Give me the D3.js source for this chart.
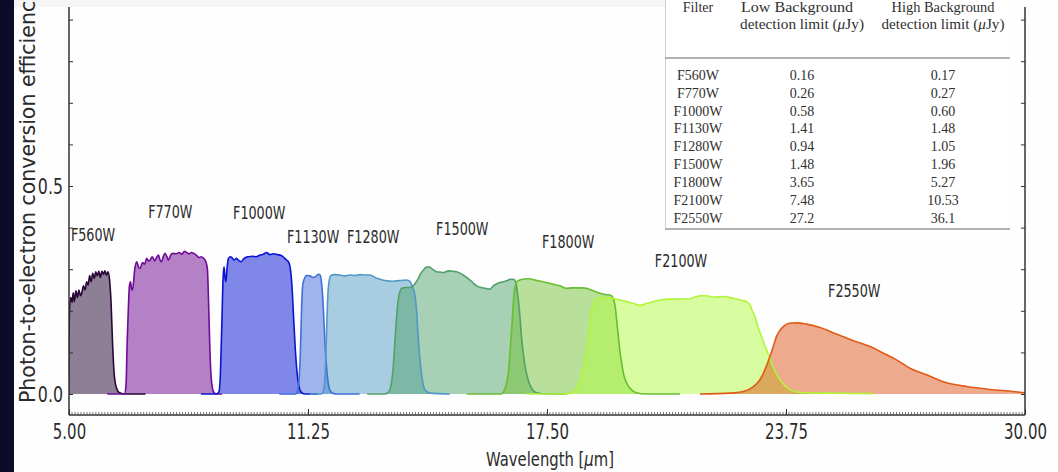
<!DOCTYPE html>
<html>
<head>
<meta charset="utf-8">
<script src="https://cdn.jsdelivr.net/npm/d3@7"></script>
<style>
  html, body { margin: 0; padding: 0; background: #ffffff; overflow: hidden; }
  svg { display: block; }
</style>
</head>
<body>
<svg id="chart" width="1058" height="472"></svg>
<script>
// MIRI imager filter throughput curves: [wavelength (um), photon-to-electron conversion efficiency]
const filters = ["F560W", "F770W", "F1000W", "F1130W", "F1280W", "F1500W", "F1800W", "F2100W", "F2550W"];

const F560W = [[4.9,0],[4.99,0],[5.0,0.12],[5.02,0.215],[5.05,0.232],[5.08,0.22],[5.11,0.243],[5.14,0.222],[5.18,0.248],[5.22,0.232],[5.26,0.25],[5.30,0.236],[5.34,0.245],[5.38,0.26],[5.42,0.25],[5.46,0.27],[5.50,0.262],[5.54,0.285],[5.58,0.27],[5.62,0.29],[5.66,0.278],[5.70,0.294],[5.74,0.284],[5.78,0.295],[5.82,0.28],[5.86,0.295],[5.90,0.288],[5.94,0.296],[5.98,0.285],[6.02,0.294],[6.06,0.275],[6.10,0.22],[6.14,0.12],[6.18,0.05],[6.24,0.015],[6.32,0.003],[6.45,0],[7.0,0]];
const F770W = [[6.0,0],[6.45,0],[6.49,0.02],[6.52,0.12],[6.55,0.2],[6.58,0.26],[6.61,0.27],[6.64,0.25],[6.67,0.255],[6.72,0.3],[6.77,0.318],[6.82,0.305],[6.86,0.302],[6.92,0.316],[6.98,0.312],[7.03,0.326],[7.08,0.32],[7.12,0.322],[7.18,0.33],[7.24,0.32],[7.29,0.328],[7.34,0.334],[7.38,0.322],[7.42,0.318],[7.47,0.332],[7.51,0.338],[7.56,0.33],[7.60,0.322],[7.66,0.334],[7.72,0.338],[7.80,0.337],[7.88,0.34],[7.95,0.336],[8.02,0.343],[8.08,0.34],[8.14,0.337],[8.2,0.34],[8.26,0.338],[8.33,0.334],[8.40,0.328],[8.46,0.33],[8.52,0.326],[8.58,0.318],[8.62,0.3],[8.65,0.22],[8.68,0.12],[8.71,0.05],[8.74,0.02],[8.78,0.005],[8.85,0],[9.0,0]];
const F1000W = [[8.45,0],[8.85,0],[8.92,0.005],[8.96,0.05],[9.0,0.18],[9.03,0.28],[9.055,0.306],[9.08,0.28],[9.105,0.27],[9.13,0.3],[9.17,0.326],[9.22,0.33],[9.26,0.328],[9.32,0.322],[9.38,0.326],[9.45,0.32],[9.5,0.318],[9.56,0.324],[9.62,0.328],[9.7,0.33],[9.8,0.331],[9.9,0.33],[10.0,0.334],[10.08,0.336],[10.17,0.34],[10.25,0.335],[10.34,0.337],[10.45,0.335],[10.55,0.333],[10.62,0.328],[10.69,0.322],[10.75,0.316],[10.79,0.3],[10.83,0.26],[10.87,0.19],[10.91,0.12],[10.96,0.055],[11.01,0.02],[11.06,0.006],[11.15,0],[11.5,0]];
const F1130W = [[10.5,0],[10.93,0],[10.98,0.01],[11.02,0.04],[11.05,0.1],[11.08,0.2],[11.11,0.26],[11.15,0.276],[11.22,0.285],[11.3,0.284],[11.38,0.28],[11.45,0.282],[11.52,0.288],[11.57,0.286],[11.6,0.27],[11.63,0.24],[11.67,0.17],[11.7,0.11],[11.74,0.06],[11.78,0.025],[11.83,0.008],[11.9,0.002],[12.0,0],[12.6,0]];
const F1280W = [[11.3,0],[11.6,0],[11.66,0.01],[11.7,0.05],[11.73,0.13],[11.76,0.22],[11.8,0.27],[11.85,0.285],[11.95,0.287],[12.09,0.286],[12.2,0.284],[12.35,0.286],[12.5,0.285],[12.61,0.287],[12.75,0.286],[12.87,0.286],[13.05,0.278],[13.2,0.274],[13.31,0.272],[13.45,0.271],[13.57,0.272],[13.7,0.273],[13.83,0.274],[13.92,0.27],[13.98,0.258],[14.04,0.24],[14.09,0.2],[14.13,0.14],[14.18,0.08],[14.23,0.04],[14.31,0.01],[14.44,0.002],[14.96,0]];
const F1500W = [[12.8,0],[13.25,0],[13.35,0.004],[13.42,0.02],[13.48,0.066],[13.54,0.15],[13.59,0.21],[13.65,0.245],[13.70,0.254],[13.8,0.256],[13.92,0.256],[14.0,0.26],[14.07,0.268],[14.135,0.278],[14.2,0.29],[14.27,0.298],[14.33,0.304],[14.4,0.306],[14.48,0.302],[14.55,0.297],[14.615,0.294],[14.7,0.293],[14.79,0.292],[14.92,0.296],[15.03,0.295],[15.14,0.294],[15.23,0.29],[15.31,0.286],[15.4,0.28],[15.49,0.274],[15.58,0.266],[15.66,0.26],[15.77,0.256],[15.88,0.254],[16.01,0.252],[16.1,0.26],[16.19,0.265],[16.27,0.268],[16.36,0.27],[16.445,0.272],[16.52,0.275],[16.58,0.276],[16.64,0.275],[16.69,0.265],[16.73,0.24],[16.78,0.2],[16.84,0.13],[16.89,0.09],[16.94,0.06],[17.02,0.03],[17.09,0.015],[17.23,0.003],[17.49,0],[18.01,0]];
const F1800W = [[15.4,0],[16.3,0],[16.39,0.01],[16.45,0.03],[16.49,0.05],[16.54,0.11],[16.58,0.16],[16.64,0.242],[16.71,0.27],[16.79,0.274],[16.89,0.276],[16.97,0.277],[17.05,0.277],[17.14,0.275],[17.27,0.272],[17.4,0.27],[17.54,0.267],[17.67,0.264],[17.84,0.26],[18.01,0.254],[18.14,0.255],[18.28,0.255],[18.41,0.255],[18.54,0.254],[18.63,0.251],[18.71,0.248],[18.8,0.245],[18.89,0.242],[19.02,0.239],[19.15,0.238],[19.21,0.234],[19.25,0.225],[19.29,0.205],[19.33,0.17],[19.37,0.135],[19.41,0.1],[19.46,0.07],[19.51,0.045],[19.59,0.025],[19.67,0.014],[19.84,0.003],[20.09,0],[20.98,0]];
const F2100W = [[16.97,0],[17.9,0],[18.1,0.002],[18.19,0.006],[18.28,0.016],[18.364,0.034],[18.45,0.065],[18.539,0.106],[18.6,0.15],[18.668,0.202],[18.755,0.226],[18.886,0.232],[19.06,0.232],[19.234,0.23],[19.409,0.226],[19.583,0.222],[19.758,0.218],[19.932,0.213],[20.106,0.218],[20.28,0.222],[20.455,0.226],[20.716,0.228],[20.978,0.228],[21.24,0.229],[21.37,0.233],[21.501,0.236],[21.675,0.236],[21.85,0.233],[22.111,0.234],[22.373,0.23],[22.55,0.226],[22.721,0.222],[22.808,0.214],[22.87,0.2],[22.939,0.186],[23.02,0.16],[23.113,0.138],[23.18,0.12],[23.244,0.106],[23.31,0.09],[23.375,0.074],[23.48,0.052],[23.593,0.034],[23.72,0.02],[23.855,0.01],[24.05,0.005],[24.29,0.003],[24.9,0.002],[26.03,0.001]];
const F2550W = [[21.5,0],[22.29,0.002],[22.63,0.006],[22.9,0.018],[23.05,0.032],[23.16,0.05],[23.25,0.07],[23.33,0.09],[23.42,0.115],[23.5,0.138],[23.59,0.153],[23.68,0.162],[23.77,0.168],[23.85,0.17],[24.03,0.171],[24.29,0.168],[24.64,0.16],[25.07,0.144],[25.51,0.128],[25.95,0.114],[26.3,0.098],[26.64,0.082],[26.99,0.062],[27.43,0.046],[27.95,0.027],[28.47,0.018],[29.08,0.011],[29.69,0.006],[30.0,0.003],[30.2,0.002]];

const curves = [F560W, F770W, F1000W, F1130W, F1280W, F1500W, F1800W, F2100W, F2550W];
const lineColors = ["#2a0638", "#6e0c96", "#0a14d2", "#3f6fdc", "#4f98c8", "#52a06a", "#68bd33", "#b0f53a", "#e05a18"];
const fillColors = ["#19002d", "#69018d", "#0011d1", "#4169d9", "#5199c1", "#51a169", "#71c135", "#b1fb41", "#dd5519"];

// filter name annotations (left edge, baseline) in data units
const labelX = [5.05, 7.07, 9.29, 10.70, 12.27, 14.60, 17.37, 20.32, 24.85];
const labelY = [0.368, 0.423, 0.421, 0.363, 0.363, 0.382, 0.351, 0.305, 0.233];

const xTicks = [5, 11.25, 17.5, 23.75, 30];
const yLabelTicks = [0, 0.5];
const yTicks = [0, 0.1, 0.2, 0.3, 0.4, 0.5, 0.6, 0.7, 0.8, 0.9];

// detection limit table
const tableFilters = ["F560W", "F770W", "F1000W", "F1130W", "F1280W", "F1500W", "F1800W", "F2100W", "F2550W"];
const lowLimits = ["0.16", "0.26", "0.58", "1.41", "0.94", "1.48", "3.65", "7.48", "27.2"];
const highLimits = ["0.17", "0.27", "0.60", "1.48", "1.05", "1.96", "5.27", "10.53", "36.1"];

const svg = d3.select("#chart");
const W = 1058, H = 472;
const plotLeft = 69, plotRight = 1025, plotBottom = 415, plotTop = 7;

const x = d3.scaleLinear().domain([5, 30]).range([plotLeft, plotRight]);
const y = d3.scaleLinear().domain([0, 0.5]).range([394, 186]);

const sans = "'DejaVu Sans', 'Bitstream Vera Sans', sans-serif";
const textColor = "#2b2b2b";

svg.append("rect").attr("width", W).attr("height", H).attr("fill", "#fefefe");
svg.append("rect").attr("x", 14).attr("y", 0).attr("width", 651).attr("height", plotTop).attr("fill", "#f5f5f5");
svg.append("rect").attr("x", 0).attr("y", 0).attr("width", 14).attr("height", H).attr("fill", "#0b0c27");

svg.append("defs").append("clipPath").attr("id", "plotClip")
  .append("rect").attr("x", plotLeft).attr("y", 0).attr("width", plotRight - plotLeft).attr("height", plotBottom);

const plot = svg.append("g").attr("clip-path", "url(#plotClip)");

const area = d3.area()
  .x(d => x(d[0])).y0(y(0)).y1(d => y(d[1]))
  .curve(d3.curveMonotoneX);
const line = d3.line()
  .x(d => x(d[0])).y(d => y(d[1]))
  .curve(d3.curveMonotoneX);

// translucent fills first, outlines on top of all fills
plot.selectAll("path.fill").data(curves).join("path")
  .attr("class", "fill")
  .attr("d", area)
  .attr("fill", (d, i) => fillColors[i])
  .attr("fill-opacity", 0.5);

plot.selectAll("path.outline").data(curves).join("path")
  .attr("class", "outline")
  .attr("d", line)
  .attr("fill", "none")
  .attr("stroke", (d, i) => lineColors[i])
  .attr("stroke-width", 1.6)
  .attr("stroke-linejoin", "round");

// filter names
svg.selectAll("text.flabel").data(filters).join("text")
  .attr("class", "flabel")
  .attr("transform", (d, i) => `translate(${x(labelX[i])},${y(labelY[i])}) scale(0.75,1)`)
  .attr("font-family", sans)
  .attr("font-size", 17)
  .attr("fill", textColor)
  .text(d => d);

// spines
const spine = svg.append("g").attr("stroke", "#333").attr("stroke-width", 1.5);
spine.append("line").attr("x1", plotLeft).attr("x2", plotLeft).attr("y1", plotTop).attr("y2", plotBottom);
spine.append("line").attr("x1", plotRight).attr("x2", plotRight).attr("y1", plotTop).attr("y2", plotBottom);
spine.append("line").attr("x1", plotLeft).attr("x2", plotRight).attr("y1", plotBottom).attr("y2", plotBottom);

// y axis (ticks pointing inward on both sides)
const yAxis = svg.append("g").attr("transform", `translate(${plotLeft},0)`)
  .call(d3.axisLeft(y).tickValues(yTicks).tickSizeInner(-4).tickSizeOuter(0)
    .tickFormat(d => yLabelTicks.includes(d) ? d3.format(".1f")(d) : ""));
yAxis.select(".domain").remove();
yAxis.selectAll(".tick line").attr("stroke", "#333").attr("stroke-width", 1);
yAxis.selectAll(".tick text")
  .attr("x", 0).attr("dy", null)
  .attr("transform", "translate(-6,7.5) scale(0.72,1)")
  .attr("font-family", sans).attr("font-size", 22).attr("fill", textColor);

const yAxisR = svg.append("g").attr("transform", `translate(${plotRight},0)`)
  .call(d3.axisRight(y).tickValues(yTicks).tickSizeInner(-4).tickSizeOuter(0).tickFormat(""));
yAxisR.select(".domain").remove();
yAxisR.selectAll(".tick line").attr("stroke", "#333").attr("stroke-width", 1);

// x axis: major ticks with labels, dense minor ticks
const minorStep = 6.25 / 80;
const minor = d3.range(0, 321).map(i => 5 + i * minorStep).filter(v => v <= 30.0001);
svg.append("g").selectAll("line").data(minor).join("line")
  .attr("x1", d => x(d)).attr("x2", d => x(d))
  .attr("y1", plotBottom).attr("y2", plotBottom - 3)
  .attr("stroke", "#555").attr("stroke-width", 0.8);

const xAxis = svg.append("g").attr("transform", `translate(0,${plotBottom})`)
  .call(d3.axisBottom(x).tickValues(xTicks).tickSizeInner(-6).tickSizeOuter(0)
    .tickFormat(d3.format(".2f")));
xAxis.select(".domain").remove();
xAxis.selectAll(".tick line").attr("stroke", "#333").attr("stroke-width", 1);
xAxis.selectAll(".tick text")
  .attr("y", 0).attr("dy", null)
  .attr("transform", "translate(0,24) scale(0.68,1)")
  .attr("font-family", sans).attr("font-size", 22).attr("fill", textColor);

// axis titles
const xTitle = svg.append("text")
  .attr("transform", "translate(550,466) scale(0.78,1)")
  .attr("text-anchor", "middle")
  .attr("font-family", sans).attr("font-size", 19).attr("fill", textColor);
xTitle.append("tspan").text("Wavelength [");
xTitle.append("tspan").attr("font-style", "italic").text("\u03bc");
xTitle.append("tspan").text("m]");

svg.append("text")
  .attr("transform", "translate(35,403) rotate(-90)")
  .attr("text-anchor", "start")
  .attr("font-family", sans).attr("font-size", 20.5).attr("fill", textColor)
  .text("Photon-to-electron conversion efficiency");

// detection limit table
const serif = "'Liberation Serif', 'Times New Roman', serif";
const tbl = svg.append("g").attr("font-family", serif).attr("fill", "#303030").attr("font-size", 14);
tbl.append("rect").attr("x", 665).attr("y", 0).attr("width", 345).attr("height", 229).attr("fill", "#ffffff");
tbl.append("line").attr("x1", 665.5).attr("x2", 665.5).attr("y1", 0).attr("y2", 229)
  .attr("stroke", "#cfcfcf").attr("stroke-width", 1);
tbl.append("line").attr("x1", 665).attr("x2", 1010).attr("y1", 58).attr("y2", 58)
  .attr("stroke", "#9a9a9a").attr("stroke-width", 1.6);
tbl.append("line").attr("x1", 665).attr("x2", 1010).attr("y1", 229).attr("y2", 229)
  .attr("stroke", "#9a9a9a").attr("stroke-width", 1.6);

const colX = [698, 802, 943];
tbl.append("text").attr("x", colX[0]).attr("y", 12).attr("text-anchor", "middle").text("Filter");
tbl.append("text").attr("x", 797).attr("y", 12).attr("text-anchor", "middle")
  .attr("textLength", 112).attr("lengthAdjust", "spacingAndGlyphs").text("Low Background");
tbl.append("text").attr("x", 943).attr("y", 12).attr("text-anchor", "middle")
  .attr("textLength", 103).attr("lengthAdjust", "spacingAndGlyphs").text("High Background");
[[802, 124], [943, 123]].forEach(([cx, len]) => {
  const t = tbl.append("text").attr("x", cx).attr("y", 29).attr("text-anchor", "middle")
    .attr("textLength", len).attr("lengthAdjust", "spacingAndGlyphs");
  t.append("tspan").text("detection limit (");
  t.append("tspan").attr("font-style", "italic").text("\u03bc");
  t.append("tspan").text("Jy)");
});

const rowY = d3.scaleLinear().domain([0, 8]).range([80, 222.5]);
tableFilters.forEach((f, i) => {
  const yy = rowY(i);
  tbl.append("text").attr("x", colX[0]).attr("y", yy).attr("text-anchor", "middle").text(f);
  tbl.append("text").attr("x", colX[1]).attr("y", yy).attr("text-anchor", "middle").text(lowLimits[i]);
  tbl.append("text").attr("x", colX[2]).attr("y", yy).attr("text-anchor", "middle").text(highLimits[i]);
});
</script>
</body>
</html>
